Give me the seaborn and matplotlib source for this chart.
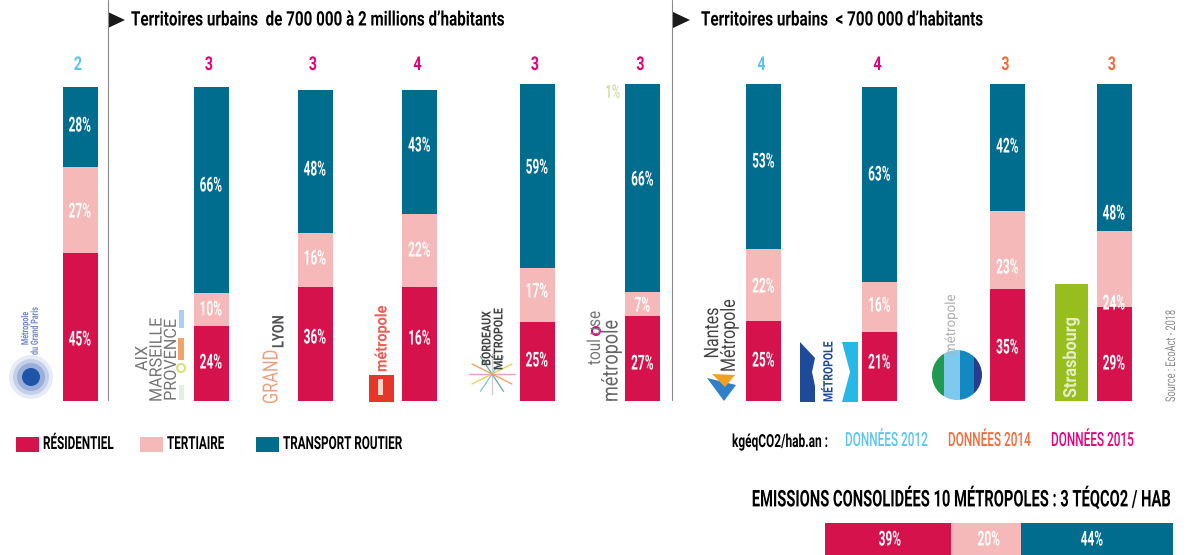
import numpy as np
import pandas as pd
import matplotlib
matplotlib.use('Agg')
import matplotlib.pyplot as plt
from matplotlib.patches import Rectangle, Circle, Polygon
from matplotlib.patheffects import AbstractPathEffect
from matplotlib.transforms import Affine2D, Bbox
import seaborn as sns

cities = ['Grand Paris', 'Aix-Marseille', 'Grand Lyon', 'Lille', 'Bordeaux',
          'Toulouse', 'Nantes', 'Rennes', 'Grenoble', 'Strasbourg']
# drawn lengths of the segments
residentiel = [148, 75, 114, 114, 79, 85, 80, 69, 112, 94]
tertiaire = [86, 33, 54, 73, 54, 24, 72, 50, 78, 76]
transport = [80, 206, 143, 124, 184, 208, 165, 195, 127, 147]
# printed labels (not always in step with the drawn lengths)
residentiel_lab = ['45%', '24%', '36%', '16%', '25%', '27%', '25%', '21%', '35%', '29%']
tertiaire_lab = ['27%', '10%', '16%', '22%', '17%', '7%', '22%', '16%', '23%', '24%']
transport_lab = ['28%', '66%', '48%', '43%', '59%', '66%', '53%', '63%', '42%', '48%']
conso = ['2', '3', '3', '4', '3', '3', '4', '4', '3', '3']
annee = [2012, 2015, 2015, 2015, 2015, 2015, 2012, 2015, 2014, 2014]

total_lengths = [126, 70, 152]
total_labels = ['39%', '20%', '44%']

# layout, in picture pixels
bar_x = [80, 211, 315, 419.5, 537, 642.5, 763.5, 879.5, 1007.5, 1114]
res_y = [340, 363, 338, 339, 361, 364, 361, 363, 348, 364]
ter_y = [212, 310, 259, 251, 292, 306, 287, 306, 268, 304]
tra_y = [126, 186, 170, 146, 168, 180, 162, 175, 147, 214]

ROUGE = '#D5124C'
ROSE = '#F6B9B9'
BLEU = '#006C8E'
annee_col = {2012: '#5BC5F2', 2014: '#F26B3A', 2015: '#E6007E'}

W, H, BASE = 1187, 555, 401

sns.set_theme(style='white')
plt.rcParams['font.family'] = ['Roboto', 'DejaVu Sans']
plt.rcParams['font.weight'] = 'bold'


class Narrow(AbstractPathEffect):
    # no condensed font is installed, so squeeze the glyphs along the text direction
    def __init__(self, s, align):
        super().__init__()
        self.s = s
        self.align = align

    def draw_path(self, renderer, gc, tpath, affine, rgbFace=None):
        w = tpath.get_extents().x1
        k = {'left': 0, 'center': 0.5, 'right': 1}[self.align]
        squeeze = Affine2D().scale(self.s, 1).translate((1 - self.s) * w * k, 0)
        renderer.draw_path(gc, tpath, squeeze + affine, rgbFace)


fig = plt.figure(figsize=(W / 100, H / 100), dpi=100)
ax = fig.add_axes([0, 0, 1, 1])

df = pd.DataFrame({'x': bar_x, 'res': residentiel, 'ter': tertiaire, 'tra': transport})
df['c1'] = df['res']
df['c2'] = df['c1'] + df['ter']
df['c3'] = df['c2'] + df['tra']

width = 35 / np.diff(sorted(bar_x)).min()
for col, color in [('c3', BLEU), ('c2', ROSE), ('c1', ROUGE)]:
    sns.barplot(data=df, x='x', y=col, native_scale=True, width=width, color=color,
                saturation=1, errorbar=None, ax=ax, linewidth=0)

ax.set_xlim(0, W)
ax.set_ylim(BASE - H, BASE)
ax.axis('off')


def px(x, y):
    # picture pixel -> data position of the main axes
    return x, BASE - y


def txt(x, y, s, size, color='black', ha='left', va='center', narrow=0.66, rotation=0, **kw):
    X, Y = px(x, y)
    t = ax.text(X, Y, s, fontsize=size * 0.72, color=color, ha=ha, va=va, rotation=rotation, **kw)
    if rotation == 90:
        align = {'bottom': 'left', 'center': 'center', 'top': 'right'}[va]
    else:
        align = ha
    t.set_path_effects([Narrow(narrow, align)])
    k = {'left': 0, 'center': 0.5, 'right': 1}[align]
    full_extent = t.get_window_extent

    def extent(renderer=None, dpi=None):
        b = full_extent(renderer, dpi)
        if rotation == 90:
            cut = b.height * (1 - narrow)
            return Bbox.from_extents(b.x0, b.y0 + cut * k, b.x1, b.y1 - cut * (1 - k))
        cut = b.width * (1 - narrow)
        return Bbox.from_extents(b.x0 + cut * k, b.y0, b.x1 - cut * (1 - k), b.y1)

    t.get_window_extent = extent
    return t


# labels in the bars
for i, x in enumerate(bar_x):
    txt(x, res_y[i], residentiel_lab[i], 20.5, color='white', ha='center', narrow=0.58)
    txt(x, ter_y[i], tertiaire_lab[i], 20.5, color='white', ha='center', narrow=0.58)
    txt(x, tra_y[i], transport_lab[i], 20.5, color='white', ha='center', narrow=0.58)
    txt(x - 2, 65, conso[i], 19, color=annee_col[annee[i]], ha='center', narrow=0.75)
txt(613, 93, '1%', 19, color='#CFE3A8', ha='center', narrow=0.6)

# separators
for sx in [107.5, 671.5]:
    ax.plot([sx, sx], [1, BASE], color='#8A8A8A', lw=0.8)

# headings
for tx, sx, s in [(108, 131, 'Territoires urbains  de 700 000 à 2 millions d’habitants'),
                  (673, 701, 'Territoires urbains  < 700 000 d’habitants')]:
    X, Y = px(tx, 20)
    ax.add_patch(Polygon([(X, Y + 8), (X, Y - 8), (X + 17, Y)], color='#1A1A1A', lw=0))
    txt(sx, 20, s, 20, narrow=0.76)

# legend
for lx, tx, col, s in [(16, 43, ROUGE, 'RÉSIDENTIEL'), (140, 167, ROSE, 'TERTIAIRE'),
                       (256, 283, BLEU, 'TRANSPORT ROUTIER')]:
    ax.add_patch(Rectangle(px(lx, 452), 23, 15, color=col, lw=0))
    txt(tx, 444, s, 18, narrow=0.65)

txt(732, 442, 'kgéqCO2/hab.an :', 18, narrow=0.66)
for lx, yr in [(845, 2012), (948, 2014), (1051, 2015)]:
    txt(lx, 441, f'DONNÉES {yr}', 19.5, color=annee_col[yr], narrow=0.605, fontweight='medium')
txt(1172, 499, 'EMISSIONS CONSOLIDÉES 10 MÉTROPOLES : 3 TÉQCO2 / HAB', 23, ha='right', narrow=0.64)
txt(1171, 402, 'Source : EcoAct - 2018', 13.5, color='#8C8C8C', rotation=90, ha='center', va='bottom',
    narrow=0.68, fontweight='normal')

# logos, rough versions
txt(30, 355, 'Métropole\ndu Grand Paris', 10, color='#6F88C8', rotation=90, ha='center', va='bottom',
    linespacing=0.95, narrow=0.72)
for rad, a in [(22, 0.12), (18, 0.2), (14, 0.3)]:
    ax.add_patch(Circle(px(31, 377), rad, color='#3A62B8', alpha=a, lw=0))
ax.add_patch(Circle(px(31, 377), 9, color='#1F55A8', lw=0))

txt(157, 402, 'AIX\nMARSEILLE\nPROVENCE', 17, color='#777777', rotation=90, va='bottom', ha='center',
    fontweight='normal', linespacing=0.95, narrow=0.95)
ax.add_patch(Rectangle(px(179, 328), 5, 18, color='#A8D0F0', lw=0))
ax.add_patch(Rectangle(px(178, 360), 6, 22, color='#F2A26B', lw=0))
ax.add_patch(Circle(px(181, 368), 4, fill=False, ec='#D9E27A', lw=1.5))
ax.add_patch(Rectangle(px(179, 400), 5, 15, color='#E4EEE4', lw=0))

txt(272, 404, 'GRAND', 21, color='#F0A080', rotation=90, va='bottom', ha='center', fontweight='normal', narrow=0.78)
txt(279, 348, 'LYON', 16, color='#555555', rotation=90, va='bottom', ha='center', narrow=0.8)

txt(382, 372, 'métropole', 16, color='#E8352A', rotation=90, va='bottom', ha='center', narrow=0.9, alpha=0.8)
ax.add_patch(Rectangle(px(369, 402), 25, 27, color='#E8352A', lw=0))
ax.add_patch(Rectangle(px(378, 395), 5, 16, color='#FBD5C8', lw=0))

txt(493, 370, 'BORDEAUX\nMÉTROPOLE', 12.5, color='#444444', rotation=90, va='bottom', ha='center',
    linespacing=0.9, narrow=0.85)
star_x, star_y = px(492, 374)
for ang, c in zip(range(0, 360, 30), ['#E6A0C8', '#F0D060', '#88C8E0', '#D0D0D0', '#70B0A0', '#F0A060'] * 2):
    ax.plot([star_x, star_x + 23 * np.cos(np.radians(ang))], [star_y, star_y + 20 * np.sin(np.radians(ang))],
            color=c, lw=1)

txt(595, 365, 'toul use', 18, color='#777777', rotation=90, va='bottom', ha='center', fontweight='normal', narrow=0.85)
txt(612, 402, 'métropole', 22, color='#666666', rotation=90, va='bottom', ha='center', fontweight='normal', narrow=0.82)
ax.add_patch(Circle(px(596, 331), 4, fill=False, ec='#E6007E', lw=1.4))

txt(721, 372, 'Nantes\nMétropole', 20, color='#444444', rotation=90, va='bottom', ha='center',
    linespacing=0.85, fontweight='normal', narrow=0.8)
ax.add_patch(Polygon([px(707, 378), px(736, 385), px(724, 401)], color='#2F80C8', lw=0))
ax.add_patch(Polygon([px(712, 374), px(735, 375), px(725, 387)], color='#F2A020', lw=0))

ax.add_patch(Polygon([px(800, 402), px(800, 342), px(815, 358), px(812, 372), px(815, 386), px(815, 402)], color='#1E4A9A', lw=0))
ax.add_patch(Polygon([px(858, 402), px(858, 342), px(842, 342), px(850, 372), px(842, 402)], color='#28B8E8', lw=0))
txt(829, 402, 'MÉTROPOLE', 13, color='#1E4A9A', rotation=90, ha='center', va='bottom', narrow=0.8)

txt(951, 355, 'métropole', 14, color='#B0B0B0', rotation=90, ha='center', va='bottom', fontweight='normal', narrow=0.95)
cx, cy = px(957, 375)
disc = Circle((cx, cy), 25, transform=ax.transData)
for ox, w_, c in [(-25, 12, '#1F9A50'), (-13, 16, '#7FC8EE'), (3, 14, '#1488C0'), (17, 8, '#283C90')]:
    stripe = Rectangle((cx + ox, cy - 25), w_, 50, color=c, lw=0)
    ax.add_patch(stripe)
    stripe.set_clip_path(disc)

ax.add_patch(Rectangle(px(1055, 401), 33, 117, color='#98BE1E', lw=0))
txt(1071, 398, 'Strasbourg', 18, color='#E4EDC8', rotation=90, ha='center', va='bottom', narrow=0.9)

# consolidated bar
ax2 = fig.add_axes([825 / W, 0, 348 / W, 32 / H])
tot = pd.DataFrame({'y': ['total'], 'a': [sum(total_lengths)], 'b': [sum(total_lengths[:2])], 'c': [total_lengths[0]]})
for col, color in [('a', BLEU), ('b', ROSE), ('c', ROUGE)]:
    sns.barplot(data=tot, y='y', x=col, orient='y', width=1, color=color, saturation=1,
                errorbar=None, ax=ax2, linewidth=0)
ax2.set_xlim(0, sum(total_lengths))
ax2.set_ylim(0.5, -0.5)
ax2.axis('off')
ax2.set_zorder(0)
ax.set_zorder(1)
ax.patch.set_visible(False)
for x, s in zip([890, 989, 1092], total_labels):
    txt(x, 540, s, 20.5, color='white', ha='center', narrow=0.58)

fig.savefig('out.png', dpi=100, facecolor='white')
